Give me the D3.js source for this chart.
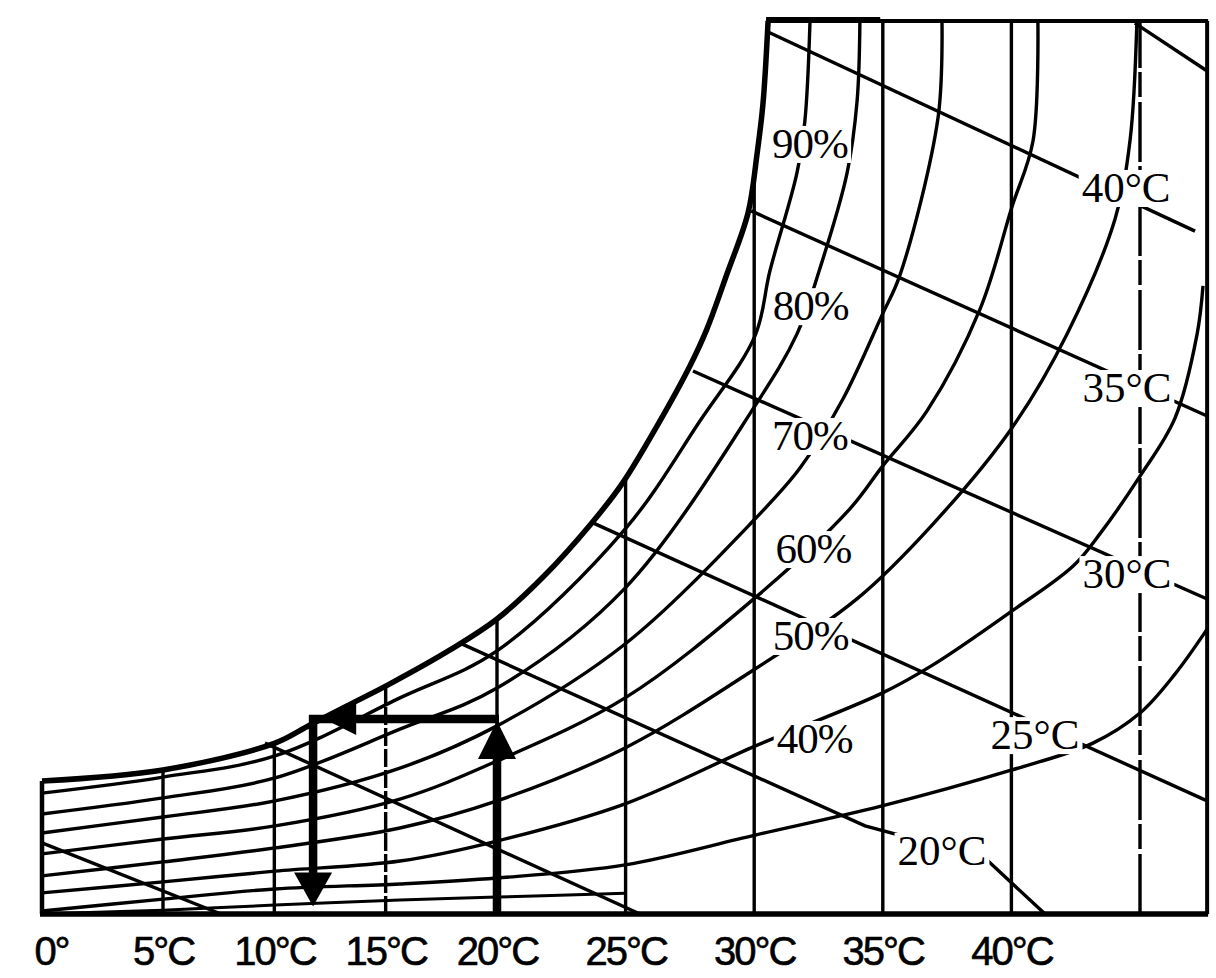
<!DOCTYPE html>
<html>
<head>
<meta charset="utf-8">
<script src="https://cdn.jsdelivr.net/npm/d3@7"></script>
<style>
  html,body{margin:0;padding:0;background:#fff;}
  svg{display:block;}
</style>
</head>
<body>
<svg id="chart" width="1216" height="978"></svg>
<script>
// ---------------- DATA ----------------
// x-axis: dry-bulb temperature (°C); y: moisture content (g/kg, as drawn)
const axisTemps  = [0, 5, 10, 15, 20, 25, 30, 35, 40];
const axisLabels = ["0°", "5°C", "10°C", "15°C", "20°C", "25°C", "30°C", "35°C", "40°C"];
const gridTempsToSaturation = [5, 10, 15, 20, 25, 30];
const gridTempsFull = [35, 40, 45];
const dashedGridTemps = [15, 45];
const chartMaxTemp = 47.61;
const chartMaxW = 30;

// saturation curve (100 %)
const saturation = [[0,4.47],[5,4.84],[10.03,5.74],[11.6,6.35],[13.26,6.99],[15.19,7.73],[17.89,8.87],[20,9.91],
  [21.79,11.32],[23.62,13.07],[24.86,14.45],[26.22,16.39],[27.5,18.41],[28.16,19.65],[28.94,21.5],
  [29.76,23.55],[30.11,25.53],[30.34,27.21],[30.54,30]];

// relative humidity curves
const rh90 = [[0,4.06],[5,4.6],[10.03,5.31],[15.64,7.26],[20,8.84],[24.98,12.93],[27.89,16.56],[30.03,19.42],
  [30.61,21.6],[31.66,24.89],[31.97,26.64],[32.17,30]];
const rh80 = [[0,3.36],[5,3.9],[10.03,4.57],[15.64,6.21],[20,7.59],[24.98,10.95],[30.03,17.07],[31.66,19.48],
  [32.56,21.7],[33.61,24.89],[34.0,27.31],[34.11,30]];
const rh70 = [[0,2.72],[5,3.26],[10.03,3.8],[15.64,4.9],[20,6.32],[24.98,9.07],[30.03,13.27],[31.78,14.98],
  [33.45,17.3],[34.97,20.12],[35.67,21.47],[37.15,26.77],[37.3,30]];
const rh60 = [[0,2.02],[5,2.52],[10.03,2.96],[15.64,3.86],[20,5.14],[24.98,7.26],[30.03,10.62],[33.72,13.61],
  [34.97,15.02],[36.72,16.9],[38.78,20.32],[40.02,23.75],[40.84,25.97],[41.03,30]];
const rh50 = [[0,1.28],[5,1.75],[10.03,2.22],[15.64,2.89],[20,3.8],[24.98,5.58],[30.03,8.23],[34.04,10.62],
  [36.95,13.1],[40.02,16.33],[42.16,19.48],[44.03,23.35],[44.61,25.97],[44.88,30]];
const rh40 = [[0,0.71],[5,1.08],[10.03,1.44],[15.64,1.78],[20,2.45],[24.98,3.7],[30.03,5.64],[34.97,7.42],
  [36.95,8.37],[40.02,10.18],[42.4,11.69],[43.44,12.77],[45,14.71],[46.36,16.66],[47.22,19.48],[47.45,21.1]];
const rh30 = [[0,0.1],[5,0.5],[10.03,0.84],[15.64,1.01],[20,1.21],[24.98,1.65],[30.03,2.65],[34.97,3.63],
  [40.02,4.84],[43.17,5.74],[45,6.75],[46.36,8.06],[47.61,9.57]];
const rh20 = [[0,0.0],[5,0.13],[10.03,0.3],[15.64,0.47],[20,0.57],[24.98,0.7]];

const rhLabels = ["90%", "80%", "70%", "60%", "50%", "40%"];
const rhLabelT = [32.17, 32.2, 32.17, 32.3, 32.2, 32.35];
const rhLabelW = [25.87, 20.42, 16.06, 12.26, 9.34, 5.88];

// wet-bulb lines
const wb45 = [[44.8,29.93],[47.61,28.32]];
const wb40 = [[30.54,29.63],[47.14,22.94]];
const wb35 = [[29.88,23.62],[47.61,16.73]];
const wb30 = [[27.62,18.24],[47.61,10.58]];
const wb25 = [[23.73,13.14],[47.61,3.8]];
const wb20 = [[18.34,9.1],[34.31,2.96],[38.97,1.88],[41.31,0]];
const wb15 = [[9.58,5.74],[25.56,0]];
const wb10 = [[0,2.39],[7.6,0]];

const wbLabels = ["40°C", "35°C", "30°C", "25°C", "20°C"];
const wbLabelT = [44.46, 44.49, 44.49, 40.92, 37.3];
const wbLabelW = [24.39, 17.67, 11.42, 6.01, 2.12];

// process drawn with thick arrows: up at 20 °C, left to dew point, down
const processT = [20, 20, 11.74, 11.74];
const processW = [0, 6.55, 6.55, 0.25];

// ---------------- DRAWING ----------------
const svg = d3.select("#chart");
const x = d3.scaleLinear().domain([0, 5, 20, 45]).range([42, 163, 497, 1140]);
const y = d3.scaleLinear().domain([0, 30]).range([914, 21]);

const satAt = d3.scaleLinear().domain(saturation.map(d => d[0])).range(saturation.map(d => d[1]));

const curve = d3.line().x(d => x(d[0])).y(d => y(d[1])).curve(d3.curveCatmullRom.alpha(0.5));
const straight = d3.line().x(d => x(d[0])).y(d => y(d[1]));

const g = svg.append("g");
const LW = 3.4;

// grid verticals
g.selectAll("line.gs").data(gridTempsToSaturation).enter().append("line")
  .attr("x1", d => x(d)).attr("x2", d => x(d))
  .attr("y1", y(0)).attr("y2", d => y(satAt(d)))
  .attr("stroke", "#000").attr("stroke-width", LW)
  .attr("stroke-dasharray", d => dashedGridTemps.includes(d) ? "18,3" : null);
g.selectAll("line.gf").data(gridTempsFull).enter().append("line")
  .attr("x1", d => x(d)).attr("x2", d => x(d))
  .attr("y1", y(0)).attr("y2", y(chartMaxW))
  .attr("stroke", "#000").attr("stroke-width", LW)
  .attr("stroke-dasharray", d => dashedGridTemps.includes(d) ? "60,5,25,4" : null);

// wet-bulb lines
[wb45, wb40, wb35, wb30, wb25, wb20, wb15, wb10].forEach(s => {
  g.append("path").attr("d", straight(s)).attr("fill", "none")
   .attr("stroke", "#000").attr("stroke-width", LW);
});

// RH curves
[rh90, rh80, rh70, rh60, rh50, rh40, rh30, rh20].forEach((s, i) => {
  g.append("path").attr("d", curve(s)).attr("fill", "none")
   .attr("stroke", "#000").attr("stroke-width", i === 7 ? 3 : LW);
});

// saturation curve
g.append("path").attr("d", curve(saturation)).attr("fill", "none")
  .attr("stroke", "#000").attr("stroke-width", 5.5);

// frame
const frame = g.append("g").attr("stroke", "#000").attr("fill", "none");
frame.append("line").attr("x1", x(0)).attr("x2", x(0)).attr("y1", y(0)).attr("y2", y(satAt(0))).attr("stroke-width", 4.5);
frame.append("line").attr("x1", x(0) - 2).attr("x2", x(chartMaxTemp) + 1).attr("y1", y(0)).attr("y2", y(0)).attr("stroke-width", 5.5);
frame.append("line").attr("x1", x(chartMaxTemp)).attr("x2", x(chartMaxTemp)).attr("y1", y(0)).attr("y2", y(chartMaxW)).attr("stroke-width", 4);
frame.append("line").attr("x1", x(saturation[saturation.length - 1][0]) - 2).attr("x2", x(chartMaxTemp) + 1)
  .attr("y1", y(chartMaxW)).attr("y2", y(chartMaxW)).attr("stroke-width", 4);
frame.append("line").attr("x1", x(saturation[saturation.length - 1][0]) - 2).attr("x2", x(34.9))
  .attr("y1", y(chartMaxW) - 1).attr("y2", y(chartMaxW) - 1).attr("stroke-width", 6);

// process arrows
const pts = processT.map((t, i) => [x(t), y(processW[i])]);
const arrows = g.append("g");
arrows.append("line").attr("x1", pts[0][0]).attr("y1", pts[0][1]).attr("x2", pts[1][0]).attr("y2", pts[1][1] + 30)
  .attr("stroke", "#000").attr("stroke-width", 8.5);
arrows.append("line").attr("x1", pts[1][0] + 2).attr("y1", pts[1][1]).attr("x2", pts[2][0] - 4).attr("y2", pts[2][1])
  .attr("stroke", "#000").attr("stroke-width", 8.5);
arrows.append("line").attr("x1", pts[2][0]).attr("y1", pts[2][1] - 4).attr("x2", pts[3][0]).attr("y2", pts[3][1] - 28)
  .attr("stroke", "#000").attr("stroke-width", 8.5);
const tri = (tip, dir, len, half) => {
  const [tx, ty] = tip;
  if (dir === "up") return `M${tx},${ty}L${tx - half},${ty + len}L${tx + half},${ty + len}Z`;
  if (dir === "down") return `M${tx},${ty}L${tx - half},${ty - len}L${tx + half},${ty - len}Z`;
  return `M${tx},${ty}L${tx + len},${ty - half}L${tx + len},${ty + half}Z`;
};
arrows.append("path").attr("d", tri([pts[1][0], pts[1][1] + 2], "up", 38, 19)).attr("fill", "#000");
arrows.append("path").attr("d", tri([x(12.24), pts[2][1]], "left", 32, 16)).attr("fill", "#000");
arrows.append("path").attr("d", tri(pts[3], "down", 34, 19)).attr("fill", "#000");

// labels with a white box that breaks the lines underneath, as in the original
function boxedLabel(parent, txt, px, py, ls) {
  const grp = parent.append("g");
  const rect = grp.append("rect").attr("fill", "#fff");
  const t = grp.append("text").attr("x", px).attr("y", py)
    .attr("text-anchor", "middle")
    .attr("font-family", "'Liberation Serif','DejaVu Serif',serif").attr("font-size", 43)
    .attr("fill", "#000").attr("letter-spacing", ls).text(txt);
  const b = t.node().getBBox();
  rect.attr("x", b.x - 3).attr("y", b.y + 6).attr("width", b.width + 6).attr("height", b.height - 10);
}
rhLabels.forEach((d, i) => boxedLabel(g, d, x(rhLabelT[i]), y(rhLabelW[i]) + 14, -1));
wbLabels.forEach((d, i) => boxedLabel(g, d, x(wbLabelT[i]), y(wbLabelW[i]) + 14, 0));

// x axis labels via d3 axis
const axis = d3.axisBottom(x).tickValues(axisTemps).tickFormat((d, i) => axisLabels[i]).tickSize(0).tickPadding(0);
const ax = svg.append("g").attr("transform", `translate(0,${y(0) + 23})`).call(axis);
ax.select(".domain").remove();
ax.selectAll("text")
  .attr("font-family", "'Liberation Sans',Arial,sans-serif").attr("font-size", 40)
  .attr("fill", "#000").attr("stroke", "#000").attr("stroke-width", 0.6)
  .attr("letter-spacing", -2)
  .attr("dy", "0.71em")
  .attr("dx", d => d === 0 ? 9 : 0);
</script>
</body>
</html>
